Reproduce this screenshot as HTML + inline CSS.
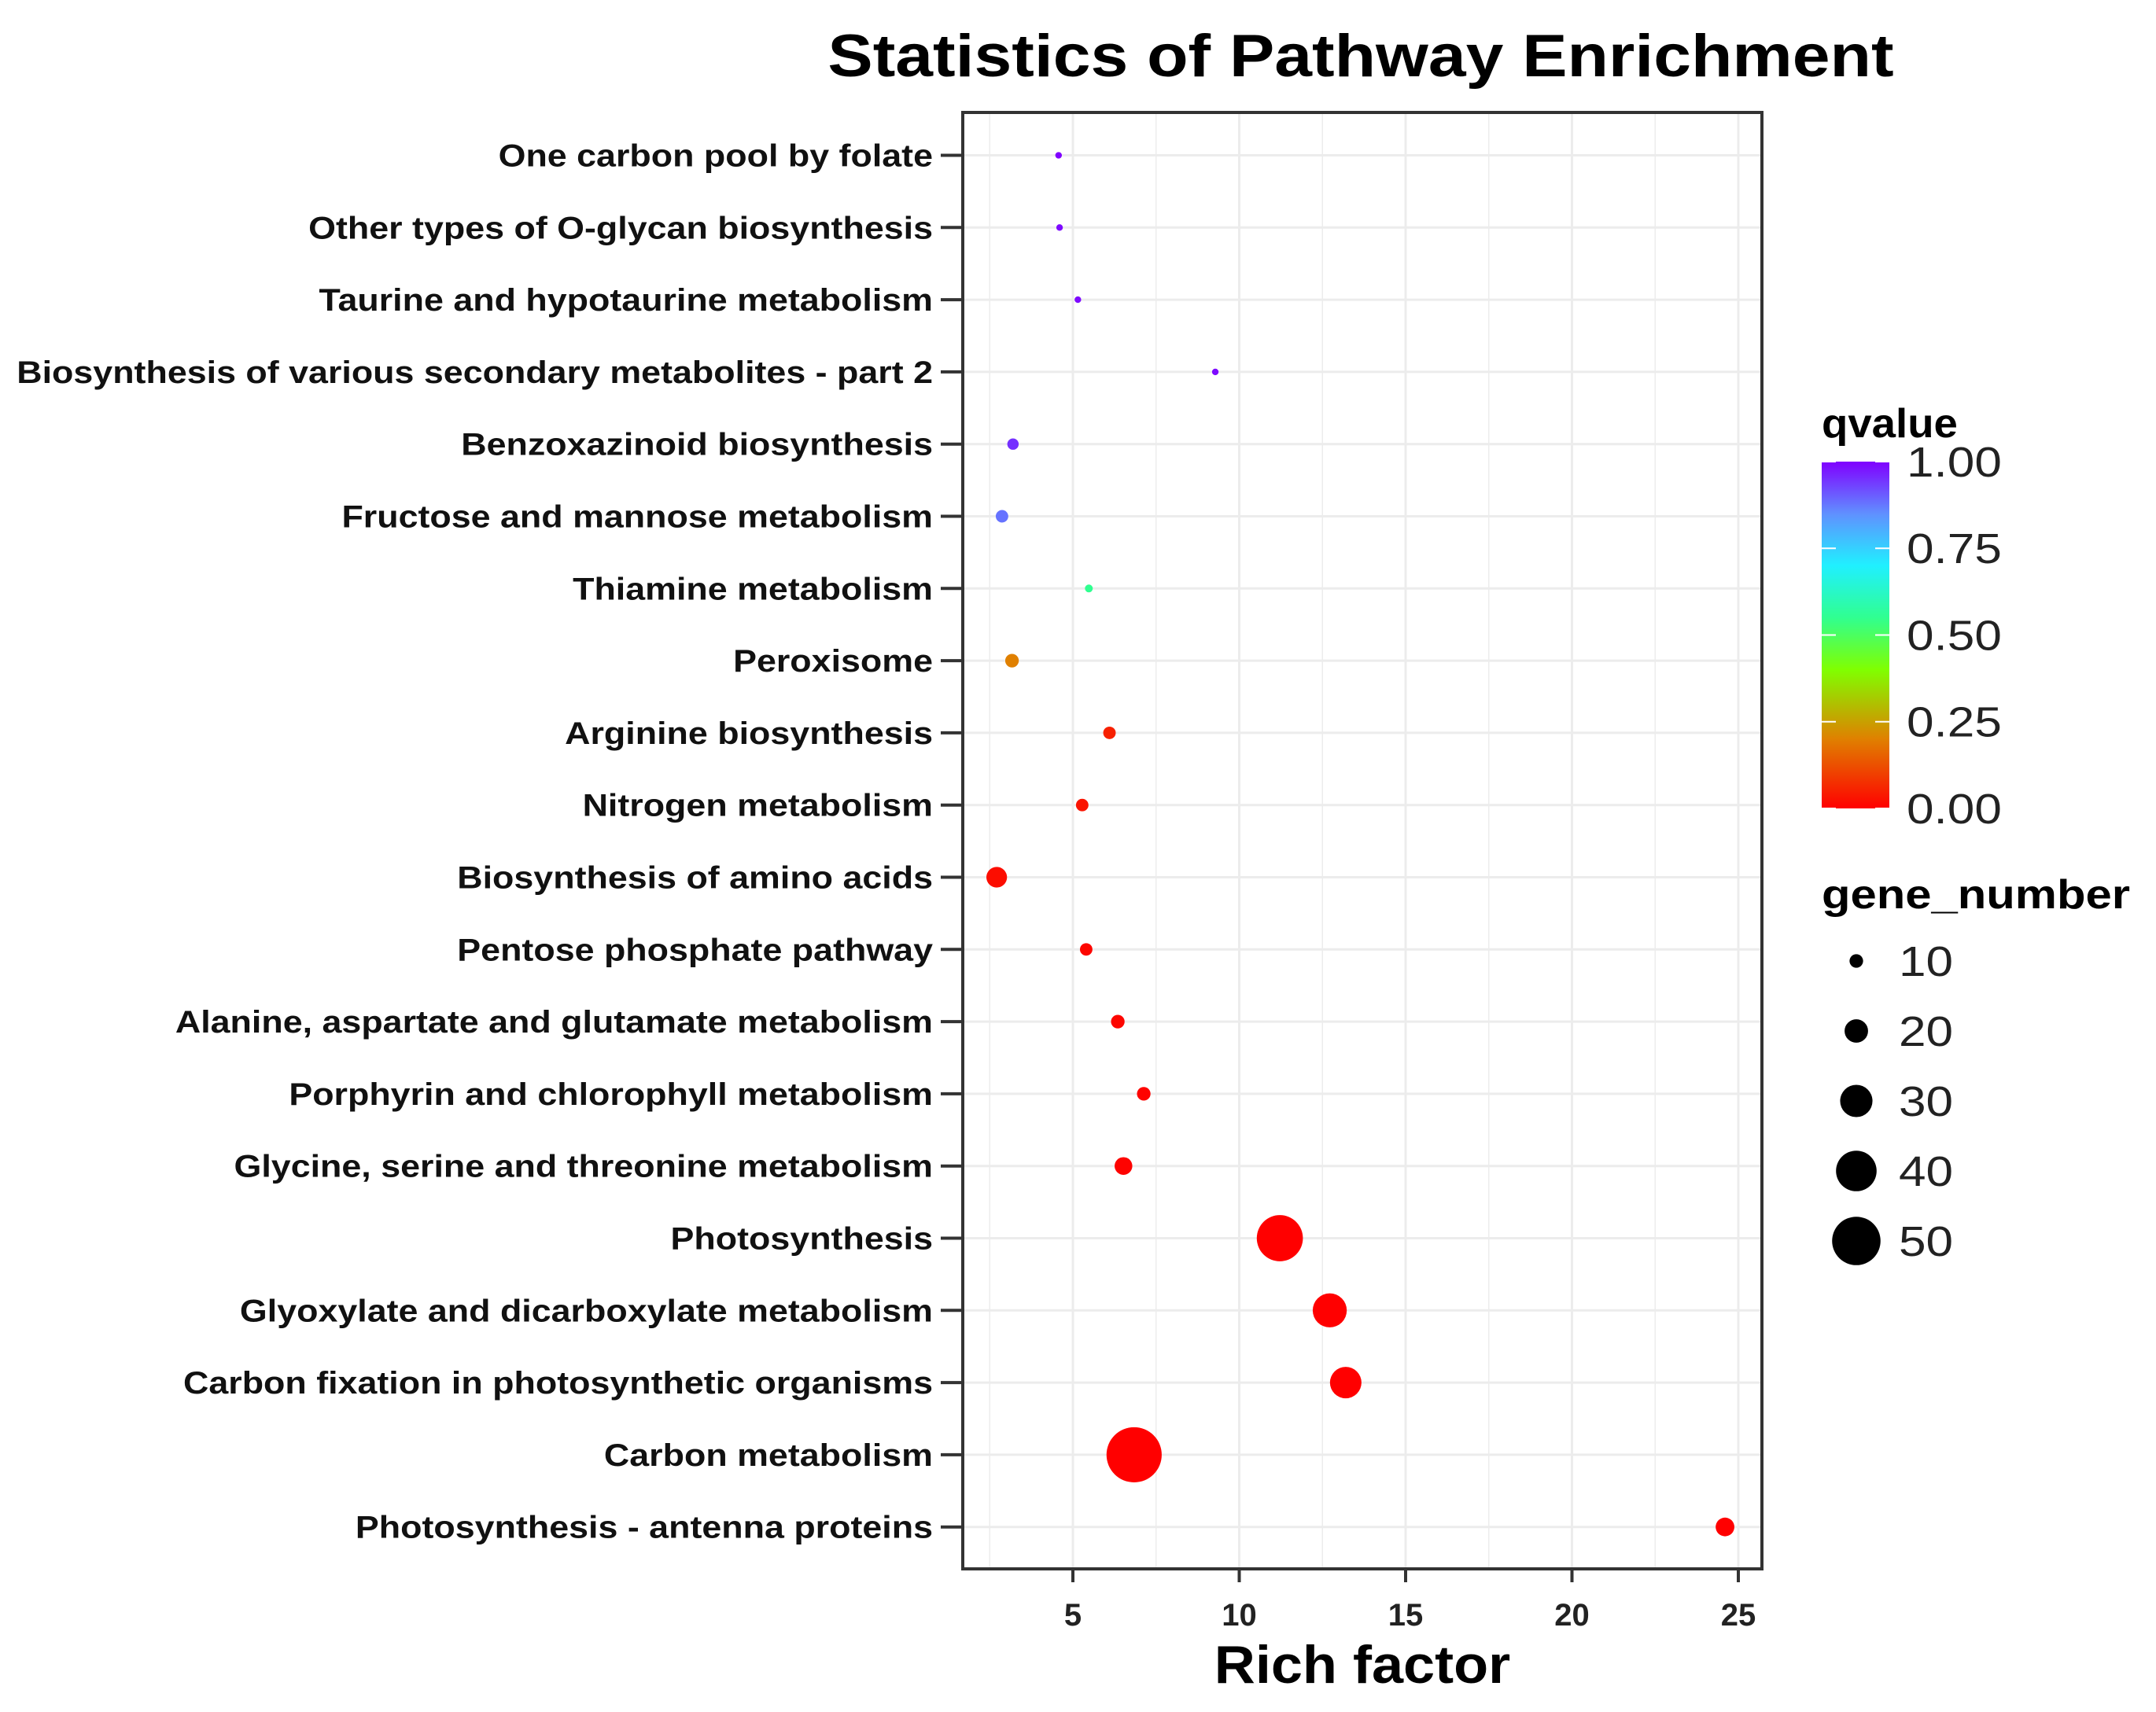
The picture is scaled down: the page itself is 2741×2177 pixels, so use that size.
<!DOCTYPE html>
<html><head><meta charset="utf-8"><style>
body{margin:0;background:#fff}
svg{display:block;font-family:"Liberation Sans",sans-serif}
</style></head><body>
<svg id="chart" width="2741" height="2177" viewBox="0 0 2741 2177" xmlns="http://www.w3.org/2000/svg">
<defs>
<linearGradient id="qgrad" x1="0" y1="1" x2="0" y2="0">
<stop offset="0" stop-color="#ff0000"/><stop offset="0.2" stop-color="#e08000"/><stop offset="0.4" stop-color="#80ff00"/><stop offset="0.55" stop-color="#30ff90"/><stop offset="0.7" stop-color="#20f0ff"/><stop offset="0.85" stop-color="#6090ff"/><stop offset="1" stop-color="#8000ff"/>
</linearGradient>
</defs>
<text x="1730" y="97" text-anchor="middle" font-size="76" font-weight="bold" transform="translate(1730,0) scale(1.13,1) translate(-1730,0)">Statistics of Pathway Enrichment</text>
<g id="grid"></g>
<g id="yaxis"></g>
<g id="xaxis"></g>
<g id="points"></g>
<rect x="1224" y="143" width="1016" height="1852" fill="none" stroke="#333" stroke-width="4"/>
<text x="1732" y="2140" text-anchor="middle" font-size="68" font-weight="bold" transform="translate(1732,0) scale(1.06,1) translate(-1732,0)">Rich factor</text>
<g>
<text x="2316" y="556" font-size="52" font-weight="bold" transform="translate(2316,0) scale(1.05,1) translate(-2316,0)">qvalue</text>
<rect x="2316" y="587" width="86" height="441" fill="url(#qgrad)"/>
<g id="qticks"></g>
</g>
<g>
<text x="2316" y="1155" font-size="52" font-weight="bold" transform="translate(2316,0) scale(1.15,1) translate(-2316,0)">gene_number</text>
<g id="sizeleg"></g>
</g>
</svg>
<script>
const categories=["One carbon pool by folate","Other types of O-glycan biosynthesis","Taurine and hypotaurine metabolism","Biosynthesis of various secondary metabolites - part 2","Benzoxazinoid biosynthesis","Fructose and mannose metabolism","Thiamine metabolism","Peroxisome","Arginine biosynthesis","Nitrogen metabolism","Biosynthesis of amino acids","Pentose phosphate pathway","Alanine, aspartate and glutamate metabolism","Porphyrin and chlorophyll metabolism","Glycine, serine and threonine metabolism","Photosynthesis","Glyoxylate and dicarboxylate metabolism","Carbon fixation in photosynthetic organisms","Carbon metabolism","Photosynthesis - antenna proteins"];
const richFactor=[4.57,4.6,5.15,9.28,3.2,2.87,5.48,3.17,6.1,5.28,2.71,5.4,6.35,7.13,6.52,11.22,12.72,13.2,6.84,24.6];
const qvalue=[1.0,0.99,0.99,0.99,0.95,0.88,0.55,0.2,0.05,0.03,0.02,0.01,0.01,0.005,0.005,0.0,0.0,0.0,0.0,0.0];
const geneNumber=[4,4,4,4,8,9,5,10,9,9,17,9,10,10,14,47,32,29,59,15];
const xTicks=[5,10,15,20,25];
const qTicks=[0,0.25,0.5,0.75,1.0];
const qTickLabels=["0.00","0.25","0.50","0.75","1.00"];
const sizeTicks=[10,20,30,40,50];

const NS="http://www.w3.org/2000/svg";
const X=v=>1152.5+42.3*v;
const Y=i=>197.5+i*91.8;
const R=n=>1.4*Math.pow(n,0.79);
const stops=[[0,[255,0,0]],[0.2,[224,128,0]],[0.4,[128,255,0]],[0.55,[48,255,144]],[0.7,[32,240,255]],[0.85,[96,144,255]],[1,[128,0,255]]];
function col(q){for(let i=1;i<stops.length;i++){if(q<=stops[i][0]){const a=stops[i-1],b=stops[i],t=(q-a[0])/(b[0]-a[0]);return 'rgb('+a[1].map((c,k)=>Math.round(c+(b[1][k]-c)*t)).join(',')+')';}}return 'rgb(128,0,255)';}
function mk(tag,attrs,parent){const e=document.createElementNS(NS,tag);for(const k in attrs)e.setAttribute(k,attrs[k]);parent.appendChild(e);return e;}
function sx(x,s){return 'translate('+x+',0) scale('+s+',1) translate('+(-x)+',0)';}
const grid=document.getElementById('grid'),ya=document.getElementById('yaxis'),xa=document.getElementById('xaxis'),pts=document.getElementById('points');
for(let v=2.5;v<=25;v+=2.5){if(X(v)<1226||X(v)>2238)continue;const l=mk('line',{x1:X(v),x2:X(v),y1:143,y2:1995,stroke:'#ececec','stroke-width':v%5===0?3:1.5},grid);

}
categories.forEach((c,i)=>{
const g=mk('line',{x1:1224,x2:2240,y1:Y(i),y2:Y(i),stroke:'#ececec','stroke-width':3},grid);


const t=mk('line',{x1:1196,x2:1222,y1:Y(i),y2:Y(i),stroke:'#333','stroke-width':4},ya);


const tx=mk('text',{x:1186,y:Y(i)+14,'text-anchor':'end','font-size':40,'font-weight':'bold',fill:'#111',transform:sx(1186,1.12)},ya);
tx.textContent=c;


const p=mk('circle',{cx:X(richFactor[i]),cy:Y(i),r:R(geneNumber[i]),fill:col(qvalue[i])},pts);


});
xTicks.forEach(v=>{
const t=mk('line',{x1:X(v),x2:X(v),y1:1997,y2:2012,stroke:'#333','stroke-width':4},xa);


const tx=mk('text',{x:X(v),y:2067,'text-anchor':'middle','font-size':40,'font-weight':'bold',fill:'#222'},xa);
tx.textContent=v;


});
const qt=document.getElementById('qticks');
qTicks.forEach((q,i)=>{
const y=1028-q*441;
mk('line',{x1:2316,x2:2334,y1:y,y2:y,stroke:'#fff','stroke-width':2},qt);
mk('line',{x1:2384,x2:2402,y1:y,y2:y,stroke:'#fff','stroke-width':2},qt);
const tx=mk('text',{x:2424,y:y+19,'font-size':54,fill:'#222',transform:sx(2424,1.15)},qt);
tx.textContent=qTickLabels[i];


});
const sl=document.getElementById('sizeleg');
sizeTicks.forEach((n,i)=>{
const y=1222+i*89;
const c=mk('circle',{cx:2360,cy:y,r:R(n),fill:'#000'},sl);


const tx=mk('text',{x:2414,y:y+19,'font-size':54,fill:'#222',transform:sx(2414,1.15)},sl);
tx.textContent=n;


});
</script>
</body></html>
